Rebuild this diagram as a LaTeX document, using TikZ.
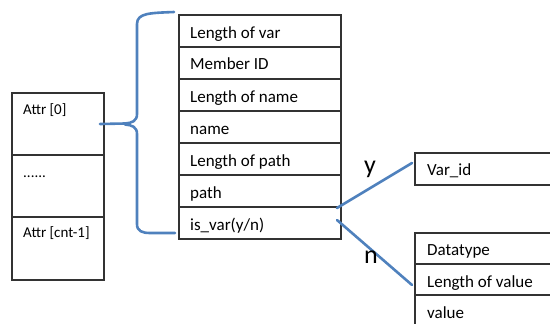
\documentclass[tikz,border=0pt]{standalone}
\usepackage{fontspec}
\setmainfont{Carlito}
\begin{document}
\begin{tikzpicture}[x=1pt,y=-1pt,
  cell/.style={draw=black!80,line width=1.1pt,rectangle,anchor=north west,inner sep=0pt},
  lbl/.style={anchor=base west,font=\fontsize{17}{19}\selectfont,inner sep=0pt},
  slbl/.style={anchor=base west,font=\fontsize{15}{17}\selectfont,inner sep=0pt},
  blue/.style={draw=blueline,line width=2.6pt,line cap=round,line join=round},
  big/.style={anchor=base,font=\fontsize{26}{28}\selectfont,inner sep=0pt}]
\definecolor{blueline}{RGB}{79,129,189}
\path[use as bounding box] (0,0) rectangle (550,324);
\clip (0,0) rectangle (550,324);
% left table
\draw[cell] (12,93) rectangle (104,155);
\draw[cell] (12,155) rectangle (104,217);
\draw[cell] (12,217) rectangle (104,280);
\node[slbl] (a0) at (23,114) {Attr [0]};
\node[slbl] (adots) at (23,177) {......};
\node[slbl] (an) at (23,237) {Attr [cnt-1]};
% middle table
\foreach \t/\y [count=\i] in {{Length of var}/15,{Member ID}/47,{Length of name}/79,{name}/111,{Length of path}/143,{path}/175,{is\_var(y/n)}/207}{
  \draw[cell] (179,\y) rectangle (341,\y+32);
  \node[lbl] (m\i) at (190,\y+23) {\t};
}
% right top
\draw[cell] (415,153) rectangle (570,185);
\node[lbl] (vid) at (427,175) {Var\_id};
% right bottom
\draw[cell] (415,233) rectangle (570,264);
\draw[cell] (415,264) rectangle (570,295);
\draw[cell] (415,295) rectangle (570,340);
\node[lbl] (dt) at (427,255) {Datatype};
\node[lbl] (lv) at (427,287) {Length of value};
\node[lbl] (val) at (427,318) {value};
% brace
\draw[blue] (174,12) .. controls (150,13) and (137,13) .. (137,24)
  -- (137,114) .. controls (137,121) and (132,123) .. (125,123.5) -- (100,124);
\draw[blue] (125,124.5) .. controls (132,125) and (137,127) .. (137,134)
  -- (137,224) .. controls (137,231) and (142,233) .. (150,233) -- (175,233);
% connectors
\coordinate (yend) at (412,163);
\coordinate (nend) at (412,285);
\draw[blue] (337,208) -- (yend);
\draw[blue] (337,220) -- (nend);
\node[big] (ylab) at (370,173) {y};
\node[big] (nlab) at (371,263) {n};
\end{tikzpicture}
\end{document}
